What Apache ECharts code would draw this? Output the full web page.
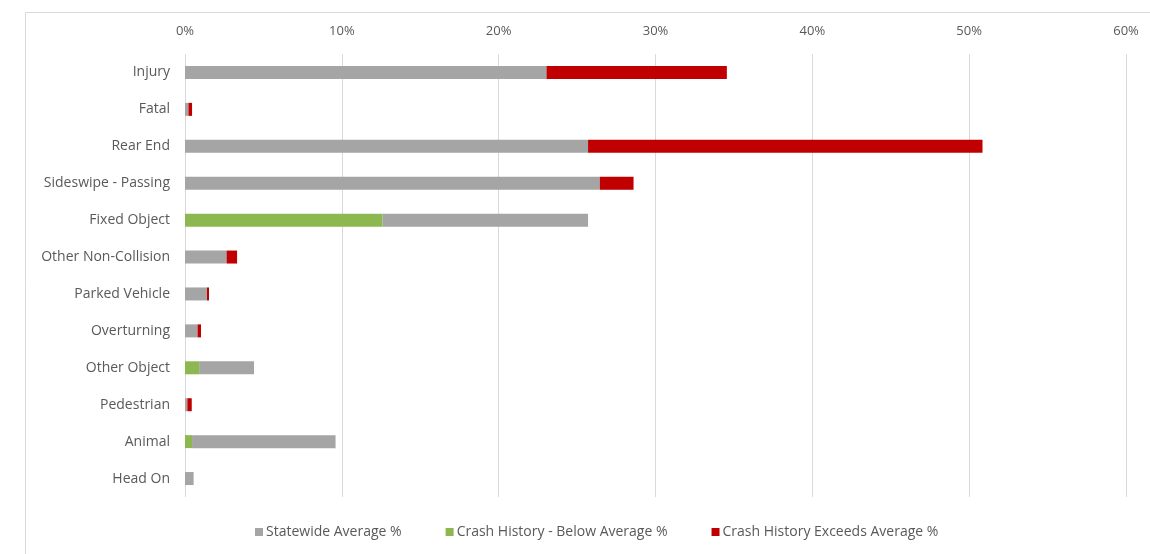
<!DOCTYPE html>
<html>
<head>
<meta charset="utf-8">
<script src="https://cdn.jsdelivr.net/npm/echarts@6/dist/echarts.min.js"></script>
<style>html,body{margin:0;padding:0;background:#fff;}#c{width:1150px;height:554px;}</style>
</head>
<body>
<div id="c"></div>
<script>
const categories = ['Injury','Fatal','Rear End','Sideswipe - Passing','Fixed Object','Other Non-Collision','Parked Vehicle','Overturning','Other Object','Pedestrian','Animal','Head On'];
// segment lengths (percent)
const belowAverage = [0, 0, 0, 0, 12.6, 0, 0, 0, 0.9, 0, 0.45, 0];
const statewideAverage = [23.05, 0.22, 25.7, 26.45, 13.1, 2.65, 1.4, 0.8, 3.5, 0.15, 9.15, 0.55];
const exceedsAverage = [11.5, 0.23, 25.15, 2.15, 0, 0.67, 0.13, 0.22, 0, 0.28, 0, 0];
const xTicks = [0, 10, 20, 30, 40, 50, 60];

const font = 'Open Sans';
const txt = '#595959';
const chart = echarts.init(document.getElementById('c'));
chart.setOption({
  animation: false,
  graphic: [{
    type: 'rect', left: 23, top: 10, shape: {width: 1140, height: 560},
    style: {fill: 'none', stroke: '#d9d9d9', lineWidth: 1}, silent: true, z: -1
  }],
  grid: {left: 185, right: 24, top: 54, bottom: 57, containLabel: false},
  xAxis: {
    type: 'value', position: 'top', min: xTicks[0], max: xTicks[xTicks.length - 1], interval: 10,
    axisLine: {show: false}, axisTick: {show: false},
    splitLine: {lineStyle: {color: '#d9d9d9', width: 1}},
    axisLabel: {formatter: v => v + '%', color: txt, fontFamily: font, fontSize: 13, margin: 16}
  },
  yAxis: {
    type: 'category', data: categories, inverse: true,
    axisLine: {show: false}, axisTick: {show: false},
    axisLabel: {color: txt, fontFamily: font, fontSize: 14, margin: 15}
  },
  legend: {
    bottom: 10, left: 250,
    data: ['Statewide Average %', 'Crash History - Below Average %', 'Crash History Exceeds Average %'],
    itemWidth: 8, itemHeight: 8, itemGap: 44, icon: 'rect',
    textStyle: {color: txt, fontFamily: font, fontSize: 14, padding: [0, 0, 0, -2]}
  },
  series: [
    {name: 'Crash History - Below Average %', type: 'bar', stack: 's', data: belowAverage, barWidth: 13, itemStyle: {color: '#8cb84f'}},
    {name: 'Statewide Average %', type: 'bar', stack: 's', data: statewideAverage, barWidth: 13, itemStyle: {color: '#a5a5a5'}},
    {name: 'Crash History Exceeds Average %', type: 'bar', stack: 's', data: exceedsAverage, barWidth: 13, itemStyle: {color: '#c00000'}}
  ]
});
</script>
</body>
</html>
